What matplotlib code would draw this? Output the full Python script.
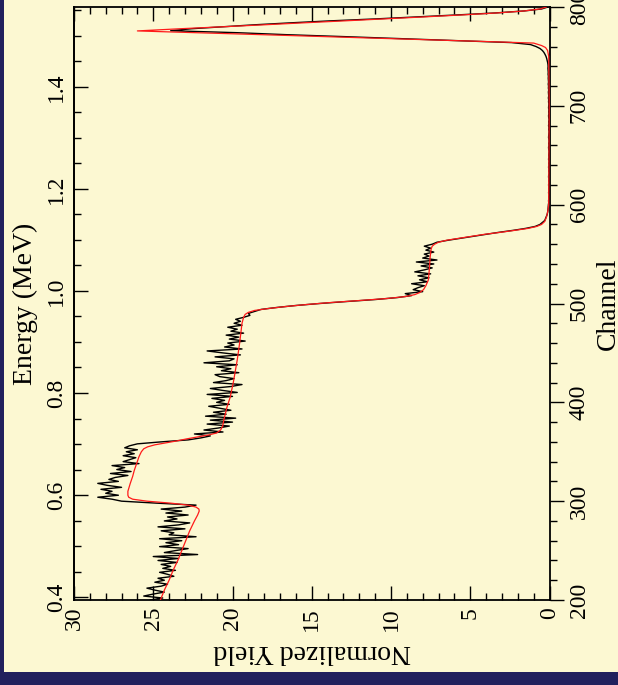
import numpy as np
import matplotlib
matplotlib.use('Agg')
import matplotlib.pyplot as plt
from matplotlib.ticker import MultipleLocator
from matplotlib.patches import Rectangle

plt.rcParams['font.family'] = ['Liberation Serif', 'DejaVu Serif']

# ---------------- data ----------------
# measured spectrum, every 2 channels from 200 to 800
channels_measured = np.arange(200, 801, 2)
yield_seg1 = [25.2, 24.4, 25.6, 25.0, 24.3, 24.9, 25.4, 24.5, 24.1, 24.9,
              24.3, 24.7, 23.7, 24.1, 24.6, 23.6, 24.4, 23.9, 24.5, 23.5,
              24.7, 23.4, 25.0, 22.2, 24.3, 23.6, 22.8, 24.6, 23.4, 24.2,
              23.2, 24.6, 22.3, 24.0, 23.7, 24.5, 23.0, 24.7, 23.4, 22.7,
              24.3, 23.5, 24.1, 22.8, 24.2, 23.2, 24.5, 23.0, 22.3, 24.8,
              27.0]
yield_seg2 = [27.6, 28.5, 27.2, 28.0, 27.6, 28.3, 27.0, 27.9, 28.5, 27.2,
              27.8, 27.4, 26.6, 27.7, 26.4, 27.3, 26.8, 27.6, 25.9, 26.9,
              26.5, 26.1, 26.9, 26.2, 26.7, 26.0, 26.8, 26.5]
yield_seg3 = [26.0, 24.5, 22.8, 22.0, 21.4]
yield_seg4 = [22.4, 20.6, 21.8, 20.9, 20.2, 21.6, 20.0, 21.4, 19.8, 21.7,
              20.4, 21.2, 20.1, 20.8, 21.5, 20.2, 21.0, 20.5, 21.3, 20.0,
              21.6, 19.7, 20.6, 21.4, 20.1, 19.4, 21.2, 20.4, 19.9, 20.8,
              21.1, 19.6, 20.7, 20.1, 21.0, 19.7, 21.8, 20.2, 19.9, 21.1,
              19.5, 20.6, 21.6, 19.4, 20.5, 19.9, 20.3, 19.2, 20.2, 19.6,
              20.4, 19.3, 20.1, 19.7, 20.3, 19.4, 19.9, 19.5, 19.8, 19.3,
              18.9]
yield_seg5 = [19.0, 18.6, 18.2, 17.2, 16.0, 14.5, 12.8, 11.0, 9.6, 8.7]
yield_seg6 = [9.1, 8.0, 8.6, 8.3, 7.9, 8.7, 7.7, 8.2, 7.6, 8.3,
              7.5, 8.5, 7.9, 7.4, 8.1, 7.3, 8.4, 7.1, 8.0, 7.6,
              7.9, 7.3, 7.8, 7.5, 7.9, 7.4, 7.1]
yield_seg7 = [6.4, 5.6, 4.8, 4.0, 3.2, 2.3, 1.5, 0.9, 0.6, 0.45,
              0.3, 0.25, 0.2, 0.15, 0.12, 0.1, 0.09, 0.08]
yield_seg8 = [0.07, 0.05, 0.06, 0.04, 0.05, 0.03, 0.06, 0.04, 0.05, 0.04,
              0.06, 0.03, 0.05, 0.04, 0.06, 0.05, 0.03, 0.05, 0.04, 0.06,
              0.04, 0.05, 0.03, 0.06, 0.04, 0.05, 0.04, 0.03, 0.05, 0.06,
              0.04, 0.05, 0.03, 0.04, 0.06, 0.05, 0.04, 0.03, 0.05, 0.04,
              0.06, 0.04, 0.05, 0.03, 0.05, 0.06, 0.04, 0.05, 0.04, 0.06,
              0.05, 0.04, 0.06, 0.05, 0.07, 0.05, 0.06, 0.07, 0.05, 0.07,
              0.06, 0.08, 0.06, 0.07, 0.08, 0.07, 0.09, 0.08, 0.09, 0.1,
              0.09]
yield_seg9 = [0.1, 0.12, 0.15, 0.18, 0.22, 0.28, 0.35, 0.45, 0.6, 0.85, 1.2]
yield_seg10 = [2.4, 5.9, 9.5, 12.9, 16.6, 19.7, 23.9, 22.6, 20.6, 18.6,
               16.3, 13.8, 10.9, 8.3, 5.8, 3.4, 1.6, 0.5, 0.1]
yield_measured = (yield_seg1 + yield_seg2 + yield_seg3 + yield_seg4 + yield_seg5 +
                  yield_seg6 + yield_seg7 + yield_seg8 + yield_seg9 + yield_seg10)

# simulated spectrum
channels_simulated = [200, 210, 220, 230, 240, 250, 260, 270, 280, 286,
                      290, 292, 294, 296, 298, 300, 302, 304, 306, 310,
                      318, 325, 331, 338, 345, 350, 353, 355, 357, 359,
                      361, 363, 365, 367, 369, 372, 376, 382, 395, 405,
                      420, 443, 460, 480, 486, 489, 491, 493, 495, 497,
                      499, 501, 503, 505, 507, 509, 511, 514, 518, 524,
                      535, 547, 555, 558, 560, 562, 564, 566, 568, 570,
                      572, 574, 576, 578, 580, 583, 588, 594, 600, 700,
                      750, 756, 759, 761, 763.5, 765, 767, 769, 771, 773,
                      775, 775.8, 778, 780, 782, 784, 786, 788, 790, 792,
                      794, 796, 798, 800]
yield_simulated = [24.55, 24.3, 24.0, 23.75, 23.45, 23.2, 22.95, 22.7, 22.4, 22.2,
                   22.1, 22.12, 22.3, 22.8, 23.9, 25.4, 26.3, 26.55, 26.6, 26.6,
                   26.45, 26.3, 26.2, 26.05, 25.9, 25.75, 25.6, 25.35, 24.9, 24.2,
                   23.5, 22.9, 22.2, 21.5, 21.0, 20.75, 20.62, 20.55, 20.35, 20.15,
                   19.95, 19.7, 19.55, 19.4, 19.3, 19.2, 19.0, 18.6, 17.7, 16.6,
                   15.3, 13.8, 12.0, 10.3, 9.1, 8.5, 8.2, 7.95, 7.8, 7.64,
                   7.58, 7.53, 7.47, 7.4, 7.25, 7.0, 6.5, 5.7, 4.9, 4.1,
                   3.1, 2.2, 1.35, 0.8, 0.5, 0.3, 0.18, 0.1, 0.05, 0.02,
                   0.05, 0.12, 0.25, 0.5, 1.0, 3.9, 8.0, 12.1, 16.1, 20.2,
                   24.4, 26.0, 23.3, 20.6, 18.0, 15.5, 12.9, 10.4, 7.9, 5.5,
                   3.3, 1.6, 0.6, 0.2]

# energy calibration (MeV per channel, channel at 1 MeV)
energy_per_channel = 0.001937
channel_at_1mev = 512.7


def ch_to_e(c):
    return 1.0 + (np.asarray(c) - channel_at_1mev) * energy_per_channel


def e_to_ch(e):
    return channel_at_1mev + (np.asarray(e) - 1.0) / energy_per_channel


# ---------------- figure ----------------
navy = '#21205d'
cream = '#fcf8d2'
W, H = 618, 685
fig = plt.figure(figsize=(W / 100, H / 100), dpi=100)
fig.patch.set_facecolor(navy)
fig.add_artist(Rectangle((4 / W, 13 / H), 1, 1, transform=fig.transFigure,
                         facecolor=cream, edgecolor='none', zorder=-10))

ax = fig.add_axes([74 / W, 85 / H, (549.5 - 74) / W, 593 / H])
ax.set_facecolor(cream)
ax.plot(yield_measured, channels_measured, color='black', lw=1.0, zorder=2)
ax.plot(yield_simulated, channels_simulated, color='#ff1a1a', lw=0.9, zorder=3)

ax.set_xlim(30, 0)
ax.set_ylim(200, 800)
for s in ax.spines.values():
    s.set_linewidth(1.3)

# energy axis (left)
sec = ax.secondary_yaxis('left', functions=(ch_to_e, e_to_ch))
sec.spines['left'].set_linewidth(1.3)
sec.yaxis.set_major_locator(MultipleLocator(0.2))
sec.yaxis.set_minor_locator(MultipleLocator(0.05))
sec.tick_params(axis='y', which='both', direction='in', labelrotation=90,
                labelsize=17, width=1.0, pad=5)
sec.tick_params(axis='y', which='major', length=10)
sec.tick_params(axis='y', which='minor', length=5)
sec.set_ylabel('Energy (MeV)', fontsize=20, labelpad=6)
plt.setp(sec.get_yticklabels(), va='center')

# yield axis (bottom/top)
ax.xaxis.set_major_locator(MultipleLocator(5))
ax.xaxis.set_minor_locator(MultipleLocator(1))
ax.tick_params(axis='x', which='both', direction='in', top=True, bottom=True,
               labelrotation=90, labelsize=17, width=1.0, pad=5)
ax.tick_params(axis='x', which='major', length=10)
ax.tick_params(axis='x', which='minor', length=5)
ax.set_xlabel('Normalized Yield', fontsize=20, rotation=180, labelpad=6)

# channel axis (right)
ax.yaxis.tick_right()
ax.yaxis.set_major_locator(MultipleLocator(100))
ax.yaxis.set_minor_locator(MultipleLocator(20))
ax.yaxis.set_tick_params(which='both', direction='out', left=False, right=True,
                         labelleft=False, labelright=True,
                         labelrotation=90, labelsize=17, width=1.0, pad=4)
ax.yaxis.set_tick_params(which='major', length=10)
ax.yaxis.set_tick_params(which='minor', length=5)
plt.setp(ax.get_yticklabels(), va='center')
ax.yaxis.set_label_position('right')
ax.set_ylabel('Channel', fontsize=20, rotation=90)
ax.yaxis.set_label_coords(1.098, 0.5)

fig.savefig('out.png', dpi=100, facecolor=fig.get_facecolor())
